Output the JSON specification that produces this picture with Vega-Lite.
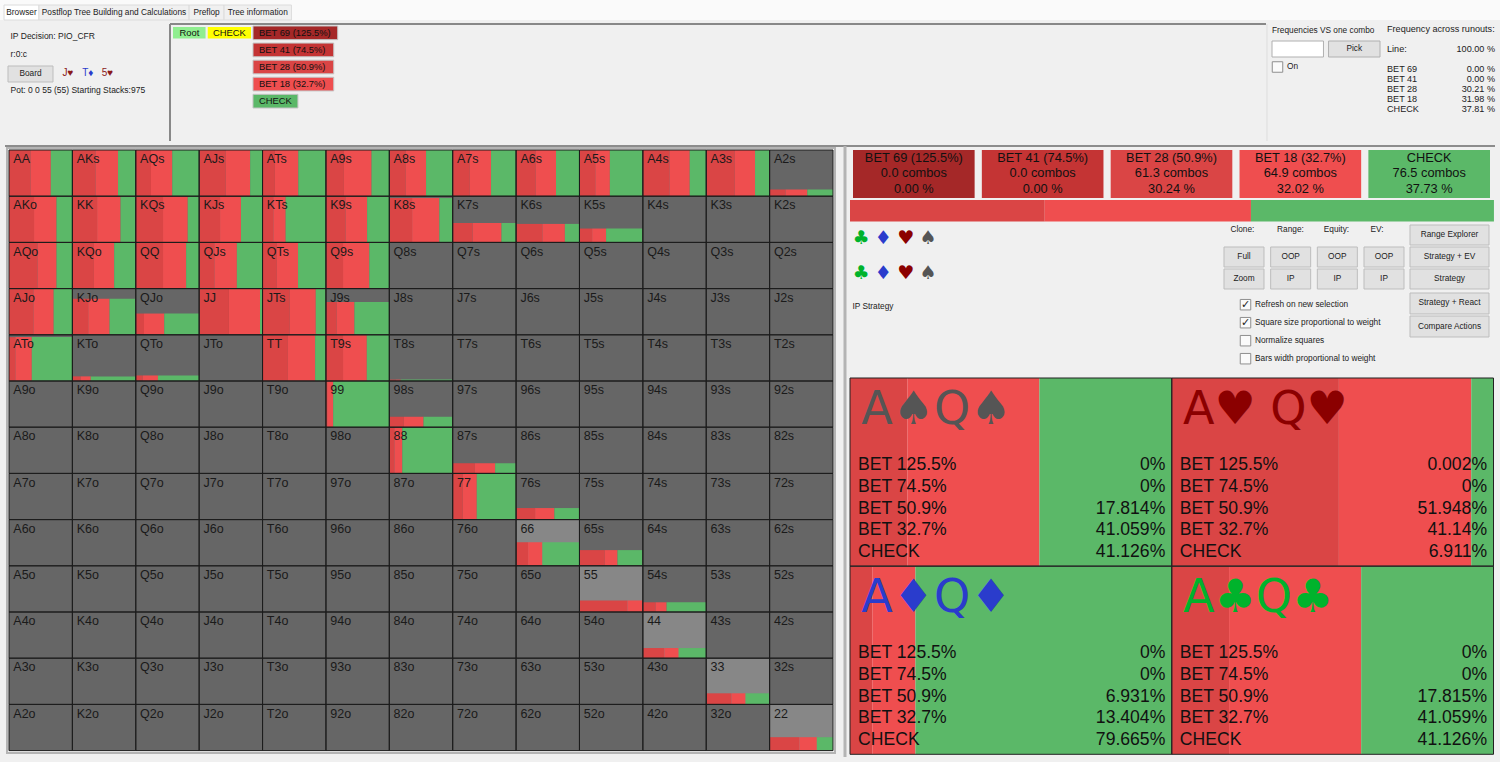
{
"$schema":"https://vega.github.io/schema/vega-lite/v6.json",
"width":1500,"height":762,"padding":0,"autosize":"none","background":"#f0f0f0",
"data":{"values":[{}]},
"config":{"axis":{"disable":true},"legend":{"disable":true},"view":{"stroke":null},"text":{"font":"Liberation Sans","fontSize":8.3,"color":"#222"}},
"resolve":{"scale":{"x":"independent","y":"independent","color":"independent"}},
"datasets":{
"tabs":[{"tab":"Browser","state":"on"},{"tab":"Postflop Tree Building and Calculations","state":"off"},{"tab":"Preflop","state":"off"},{"tab":"Tree information","state":"off"}],
"info":[{"slot":0,"line":"IP Decision:  PIO_CFR"},{"slot":1,"line":"r:0:c"},{"slot":3,"line":"Pot: 0 0 55 (55) Starting Stacks:975"}],
"board":[{"card":"J♥","suit":"heart"},{"card":"T♦","suit":"diamond"},{"card":"5♥","suit":"heart"}],
"path":[{"node":"Root"},{"node":"CHECK"}],
"tree":[{"node":"BET 69 (125.5%)"},{"node":"BET 41 (74.5%)"},{"node":"BET 28 (50.9%)"},{"node":"BET 18 (32.7%)"},{"node":"CHECK"}],
"picker":[{"widget":"input","label":""},{"widget":"pick","label":"Pick"}],
"runouts":[{"slot":0,"label":"Frequency across runouts:","value":""},{"slot":2,"label":"Line:","value":"100.00 %"},{"slot":4,"label":"BET 69","value":"0.00 %"},{"slot":5,"label":"BET 41","value":"0.00 %"},{"slot":6,"label":"BET 28","value":"30.21 %"},{"slot":7,"label":"BET 18","value":"31.98 %"},{"slot":8,"label":"CHECK","value":"37.81 %"}],
"actions":[{"action":"BET 69 (125.5%)","combos":"0.0 combos","share":0},{"action":"BET 41 (74.5%)","combos":"0.0 combos","share":0},{"action":"BET 28 (50.9%)","combos":"61.3 combos","share":30.24},{"action":"BET 18 (32.7%)","combos":"64.9 combos","share":32.02},{"action":"CHECK","combos":"76.5 combos","share":37.73}],
"icons":[{"set":"top","suit":"club","glyph":"♣"},{"set":"top","suit":"diamond","glyph":"♦"},{"set":"top","suit":"heart","glyph":"♥"},{"set":"top","suit":"spade","glyph":"♠"},{"set":"bottom","suit":"club","glyph":"♣"},{"set":"bottom","suit":"diamond","glyph":"♦"},{"set":"bottom","suit":"heart","glyph":"♥"},{"set":"bottom","suit":"spade","glyph":"♠"}],
"grid":[{"head":"Clone:","row":"top","label":"Full"},{"head":"Clone:","row":"bottom","label":"Zoom"},{"head":"Range:","row":"top","label":"OOP"},{"head":"Range:","row":"bottom","label":"IP"},{"head":"Equity:","row":"top","label":"OOP"},{"head":"Equity:","row":"bottom","label":"IP"},{"head":"EV:","row":"top","label":"OOP"},{"head":"EV:","row":"bottom","label":"IP"}],
"side":[{"block":1,"label":"Range Explorer"},{"block":1,"label":"Strategy + EV"},{"block":1,"label":"Strategy"},{"block":2,"label":"Strategy + React"},{"block":2,"label":"Compare Actions"}],
"checks":[{"slot":0,"label":"Refresh on new selection","checked":true},{"slot":1,"label":"Square size proportional to weight","checked":true},{"slot":2,"label":"Normalize squares","checked":false},{"slot":3,"label":"Bars width proportional to weight","checked":false}],
"cells":[{"hand":"AA"},{"hand":"AKs"},{"hand":"AQs"},{"hand":"AJs"},{"hand":"ATs"},{"hand":"A9s"},{"hand":"A8s"},{"hand":"A7s"},{"hand":"A6s"},{"hand":"A5s"},{"hand":"A4s"},{"hand":"A3s"},{"hand":"A2s"},
{"hand":"AKo"},{"hand":"KK"},{"hand":"KQs"},{"hand":"KJs"},{"hand":"KTs"},{"hand":"K9s"},{"hand":"K8s"},{"hand":"K7s"},{"hand":"K6s"},{"hand":"K5s"},{"hand":"K4s"},{"hand":"K3s"},{"hand":"K2s"},
{"hand":"AQo"},{"hand":"KQo"},{"hand":"QQ"},{"hand":"QJs"},{"hand":"QTs"},{"hand":"Q9s"},{"hand":"Q8s"},{"hand":"Q7s"},{"hand":"Q6s"},{"hand":"Q5s"},{"hand":"Q4s"},{"hand":"Q3s"},{"hand":"Q2s"},
{"hand":"AJo"},{"hand":"KJo"},{"hand":"QJo"},{"hand":"JJ"},{"hand":"JTs"},{"hand":"J9s"},{"hand":"J8s"},{"hand":"J7s"},{"hand":"J6s"},{"hand":"J5s"},{"hand":"J4s"},{"hand":"J3s"},{"hand":"J2s"},
{"hand":"ATo"},{"hand":"KTo"},{"hand":"QTo"},{"hand":"JTo"},{"hand":"TT"},{"hand":"T9s"},{"hand":"T8s"},{"hand":"T7s"},{"hand":"T6s"},{"hand":"T5s"},{"hand":"T4s"},{"hand":"T3s"},{"hand":"T2s"},
{"hand":"A9o"},{"hand":"K9o"},{"hand":"Q9o"},{"hand":"J9o"},{"hand":"T9o"},{"hand":"99"},{"hand":"98s"},{"hand":"97s"},{"hand":"96s"},{"hand":"95s"},{"hand":"94s"},{"hand":"93s"},{"hand":"92s"},
{"hand":"A8o"},{"hand":"K8o"},{"hand":"Q8o"},{"hand":"J8o"},{"hand":"T8o"},{"hand":"98o"},{"hand":"88"},{"hand":"87s"},{"hand":"86s"},{"hand":"85s"},{"hand":"84s"},{"hand":"83s"},{"hand":"82s"},
{"hand":"A7o"},{"hand":"K7o"},{"hand":"Q7o"},{"hand":"J7o"},{"hand":"T7o"},{"hand":"97o"},{"hand":"87o"},{"hand":"77"},{"hand":"76s"},{"hand":"75s"},{"hand":"74s"},{"hand":"73s"},{"hand":"72s"},
{"hand":"A6o"},{"hand":"K6o"},{"hand":"Q6o"},{"hand":"J6o"},{"hand":"T6o"},{"hand":"96o"},{"hand":"86o"},{"hand":"76o"},{"hand":"66","tone":"light"},{"hand":"65s"},{"hand":"64s"},{"hand":"63s"},{"hand":"62s"},
{"hand":"A5o"},{"hand":"K5o"},{"hand":"Q5o"},{"hand":"J5o"},{"hand":"T5o"},{"hand":"95o"},{"hand":"85o"},{"hand":"75o"},{"hand":"65o"},{"hand":"55","tone":"light"},{"hand":"54s"},{"hand":"53s"},{"hand":"52s"},
{"hand":"A4o"},{"hand":"K4o"},{"hand":"Q4o"},{"hand":"J4o"},{"hand":"T4o"},{"hand":"94o"},{"hand":"84o"},{"hand":"74o"},{"hand":"64o"},{"hand":"54o"},{"hand":"44","tone":"light"},{"hand":"43s"},{"hand":"42s"},
{"hand":"A3o"},{"hand":"K3o"},{"hand":"Q3o"},{"hand":"J3o"},{"hand":"T3o"},{"hand":"93o"},{"hand":"83o"},{"hand":"73o"},{"hand":"63o"},{"hand":"53o"},{"hand":"43o"},{"hand":"33","tone":"light"},{"hand":"32s"},
{"hand":"A2o"},{"hand":"K2o"},{"hand":"Q2o"},{"hand":"J2o"},{"hand":"T2o"},{"hand":"92o"},{"hand":"82o"},{"hand":"72o"},{"hand":"62o"},{"hand":"52o"},{"hand":"42o"},{"hand":"32o"},{"hand":"22","tone":"light"}],
"strategy":[
{"hand":"AA","action":"BET 28","freq":34,"weight":100},{"hand":"AA","action":"BET 18","freq":32,"weight":100},{"hand":"AA","action":"CHECK","freq":34,"weight":100},
{"hand":"AKs","action":"BET 28","freq":36.5,"weight":100},{"hand":"AKs","action":"BET 18","freq":35.5,"weight":100},{"hand":"AKs","action":"CHECK","freq":28,"weight":100},
{"hand":"AQs","action":"BET 28","freq":24,"weight":100},{"hand":"AQs","action":"BET 18","freq":33.6,"weight":100},{"hand":"AQs","action":"CHECK","freq":42.4,"weight":100},
{"hand":"AJs","action":"BET 28","freq":42,"weight":100},{"hand":"AJs","action":"BET 18","freq":38.5,"weight":100},{"hand":"AJs","action":"CHECK","freq":19.5,"weight":100},
{"hand":"ATs","action":"BET 28","freq":19.5,"weight":100},{"hand":"ATs","action":"BET 18","freq":37,"weight":100},{"hand":"ATs","action":"CHECK","freq":43.5,"weight":100},
{"hand":"A9s","action":"BET 28","freq":28.4,"weight":100},{"hand":"A9s","action":"BET 18","freq":43.6,"weight":100},{"hand":"A9s","action":"CHECK","freq":28,"weight":100},
{"hand":"A8s","action":"BET 28","freq":26,"weight":100},{"hand":"A8s","action":"BET 18","freq":32,"weight":100},{"hand":"A8s","action":"CHECK","freq":42,"weight":100},
{"hand":"A7s","action":"BET 28","freq":27,"weight":100},{"hand":"A7s","action":"BET 18","freq":33.5,"weight":100},{"hand":"A7s","action":"CHECK","freq":39.5,"weight":100},
{"hand":"A6s","action":"BET 28","freq":31,"weight":100},{"hand":"A6s","action":"BET 18","freq":32,"weight":100},{"hand":"A6s","action":"CHECK","freq":37,"weight":100},
{"hand":"A5s","action":"BET 28","freq":25,"weight":100},{"hand":"A5s","action":"BET 18","freq":23,"weight":100},{"hand":"A5s","action":"CHECK","freq":52,"weight":100},
{"hand":"A4s","action":"BET 28","freq":42,"weight":100},{"hand":"A4s","action":"BET 18","freq":32,"weight":100},{"hand":"A4s","action":"CHECK","freq":26,"weight":100},
{"hand":"A3s","action":"BET 28","freq":45,"weight":100},{"hand":"A3s","action":"BET 18","freq":32,"weight":100},{"hand":"A3s","action":"CHECK","freq":23,"weight":100},
{"hand":"A2s","action":"BET 28","freq":25,"weight":14.5},{"hand":"A2s","action":"BET 18","freq":34.5,"weight":14.5},{"hand":"A2s","action":"CHECK","freq":40.5,"weight":14.5},
{"hand":"AKo","action":"BET 28","freq":39.5,"weight":100},{"hand":"AKo","action":"BET 18","freq":35.5,"weight":100},{"hand":"AKo","action":"CHECK","freq":25,"weight":100},
{"hand":"KK","action":"BET 28","freq":39,"weight":100},{"hand":"KK","action":"BET 18","freq":37,"weight":100},{"hand":"KK","action":"CHECK","freq":24,"weight":100},
{"hand":"KQs","action":"BET 28","freq":43,"weight":100},{"hand":"KQs","action":"BET 18","freq":39,"weight":100},{"hand":"KQs","action":"CHECK","freq":18,"weight":100},
{"hand":"KJs","action":"BET 28","freq":33,"weight":100},{"hand":"KJs","action":"BET 18","freq":33,"weight":100},{"hand":"KJs","action":"CHECK","freq":34,"weight":100},
{"hand":"KTs","action":"BET 28","freq":17,"weight":100},{"hand":"KTs","action":"BET 18","freq":19.5,"weight":100},{"hand":"KTs","action":"CHECK","freq":63.5,"weight":100},
{"hand":"K9s","action":"BET 28","freq":31,"weight":100},{"hand":"K9s","action":"BET 18","freq":34,"weight":100},{"hand":"K9s","action":"CHECK","freq":35,"weight":100},
{"hand":"K8s","action":"BET 28","freq":36,"weight":96},{"hand":"K8s","action":"BET 18","freq":43,"weight":96},{"hand":"K8s","action":"CHECK","freq":21,"weight":96},
{"hand":"K7s","action":"BET 28","freq":31.5,"weight":42},{"hand":"K7s","action":"BET 18","freq":45.5,"weight":42},{"hand":"K7s","action":"CHECK","freq":23,"weight":42},
{"hand":"K6s","action":"BET 28","freq":41.5,"weight":40},{"hand":"K6s","action":"BET 18","freq":35.5,"weight":40},{"hand":"K6s","action":"CHECK","freq":23,"weight":40},
{"hand":"K5s","action":"BET 28","freq":20,"weight":30},{"hand":"K5s","action":"BET 18","freq":22,"weight":30},{"hand":"K5s","action":"CHECK","freq":58,"weight":30},
{"hand":"AQo","action":"BET 28","freq":45,"weight":100},{"hand":"AQo","action":"BET 18","freq":30,"weight":100},{"hand":"AQo","action":"CHECK","freq":25,"weight":100},
{"hand":"KQo","action":"BET 28","freq":34,"weight":100},{"hand":"KQo","action":"BET 18","freq":32,"weight":100},{"hand":"KQo","action":"CHECK","freq":34,"weight":100},
{"hand":"QQ","action":"BET 28","freq":43,"weight":100},{"hand":"QQ","action":"BET 18","freq":36.5,"weight":100},{"hand":"QQ","action":"CHECK","freq":20.5,"weight":100},
{"hand":"QJs","action":"BET 28","freq":24,"weight":100},{"hand":"QJs","action":"BET 18","freq":35.5,"weight":100},{"hand":"QJs","action":"CHECK","freq":40.5,"weight":100},
{"hand":"QTs","action":"BET 28","freq":22.6,"weight":100},{"hand":"QTs","action":"BET 18","freq":33.4,"weight":100},{"hand":"QTs","action":"CHECK","freq":44,"weight":100},
{"hand":"Q9s","action":"BET 28","freq":27,"weight":100},{"hand":"Q9s","action":"BET 18","freq":41.5,"weight":100},{"hand":"Q9s","action":"CHECK","freq":31.5,"weight":100},
{"hand":"AJo","action":"BET 28","freq":38.5,"weight":100},{"hand":"AJo","action":"BET 18","freq":32,"weight":100},{"hand":"AJo","action":"CHECK","freq":29.5,"weight":100},
{"hand":"KJo","action":"BET 28","freq":25,"weight":78},{"hand":"KJo","action":"BET 18","freq":33.7,"weight":78},{"hand":"KJo","action":"CHECK","freq":41.3,"weight":78},
{"hand":"QJo","action":"BET 28","freq":13,"weight":46},{"hand":"QJo","action":"BET 18","freq":32,"weight":46},{"hand":"QJo","action":"CHECK","freq":55,"weight":46},
{"hand":"JJ","action":"BET 28","freq":47,"weight":100},{"hand":"JJ","action":"BET 18","freq":49,"weight":100},{"hand":"JJ","action":"CHECK","freq":4,"weight":100},
{"hand":"JTs","action":"BET 28","freq":43,"weight":100},{"hand":"JTs","action":"BET 18","freq":41,"weight":100},{"hand":"JTs","action":"CHECK","freq":16,"weight":100},
{"hand":"J9s","action":"BET 28","freq":17,"weight":71},{"hand":"J9s","action":"BET 18","freq":28,"weight":71},{"hand":"J9s","action":"CHECK","freq":55,"weight":71},
{"hand":"ATo","action":"BET 28","freq":10,"weight":95},{"hand":"ATo","action":"BET 18","freq":26,"weight":95},{"hand":"ATo","action":"CHECK","freq":64,"weight":95},
{"hand":"KTo","action":"BET 28","freq":13,"weight":10},{"hand":"KTo","action":"BET 18","freq":16,"weight":10},{"hand":"KTo","action":"CHECK","freq":71,"weight":10},
{"hand":"QTo","action":"BET 28","freq":11,"weight":12},{"hand":"QTo","action":"BET 18","freq":24,"weight":12},{"hand":"QTo","action":"CHECK","freq":65,"weight":12},
{"hand":"TT","action":"BET 28","freq":40,"weight":100},{"hand":"TT","action":"BET 18","freq":43,"weight":100},{"hand":"TT","action":"CHECK","freq":17,"weight":100},
{"hand":"T9s","action":"BET 28","freq":27,"weight":100},{"hand":"T9s","action":"BET 18","freq":37.5,"weight":100},{"hand":"T9s","action":"CHECK","freq":35.5,"weight":100},
{"hand":"T8s","action":"BET 28","freq":10,"weight":3},{"hand":"T8s","action":"BET 18","freq":8,"weight":3},{"hand":"T8s","action":"CHECK","freq":82,"weight":3},
{"hand":"99","action":"BET 28","freq":2,"weight":100},{"hand":"99","action":"BET 18","freq":9.5,"weight":100},{"hand":"99","action":"CHECK","freq":88.5,"weight":100},
{"hand":"98s","action":"BET 28","freq":23,"weight":22.6},{"hand":"98s","action":"BET 18","freq":31,"weight":22.6},{"hand":"98s","action":"CHECK","freq":46,"weight":22.6},
{"hand":"88","action":"BET 28","freq":8,"weight":100},{"hand":"88","action":"BET 18","freq":12.5,"weight":100},{"hand":"88","action":"CHECK","freq":79.5,"weight":100},
{"hand":"87s","action":"BET 28","freq":35,"weight":22},{"hand":"87s","action":"BET 18","freq":32,"weight":22},{"hand":"87s","action":"CHECK","freq":33,"weight":22},
{"hand":"77","action":"BET 28","freq":16,"weight":100},{"hand":"77","action":"BET 18","freq":22,"weight":100},{"hand":"77","action":"CHECK","freq":62,"weight":100},
{"hand":"76s","action":"BET 28","freq":30,"weight":25},{"hand":"76s","action":"BET 18","freq":30.5,"weight":25},{"hand":"76s","action":"CHECK","freq":39.5,"weight":25},
{"hand":"66","action":"BET 28","freq":19,"weight":51},{"hand":"66","action":"BET 18","freq":22.5,"weight":51},{"hand":"66","action":"CHECK","freq":58.5,"weight":51},
{"hand":"65s","action":"BET 28","freq":40,"weight":34},{"hand":"65s","action":"BET 18","freq":20,"weight":34},{"hand":"65s","action":"CHECK","freq":40,"weight":34},
{"hand":"55","action":"BET 28","freq":76,"weight":25},{"hand":"55","action":"BET 18","freq":24,"weight":25},
{"hand":"54s","action":"BET 28","freq":20,"weight":21},{"hand":"54s","action":"BET 18","freq":17.5,"weight":21},{"hand":"54s","action":"CHECK","freq":62.5,"weight":21},
{"hand":"44","action":"BET 28","freq":34,"weight":22},{"hand":"44","action":"BET 18","freq":22.5,"weight":22},{"hand":"44","action":"CHECK","freq":43.5,"weight":22},
{"hand":"33","action":"BET 28","freq":40,"weight":24},{"hand":"33","action":"BET 18","freq":22,"weight":24},{"hand":"33","action":"CHECK","freq":38,"weight":24},
{"hand":"22","action":"BET 28","freq":47,"weight":29},{"hand":"22","action":"BET 18","freq":27.5,"weight":29},{"hand":"22","action":"CHECK","freq":25.5,"weight":29}],
"combos":[
{"combo":"A♠Q♠","suit":"spade","col":0,"row":0,"action":"BET 125.5%","freq":0},{"combo":"A♠Q♠","suit":"spade","col":0,"row":0,"action":"BET 74.5%","freq":0},{"combo":"A♠Q♠","suit":"spade","col":0,"row":0,"action":"BET 50.9%","freq":17.814},{"combo":"A♠Q♠","suit":"spade","col":0,"row":0,"action":"BET 32.7%","freq":41.059},{"combo":"A♠Q♠","suit":"spade","col":0,"row":0,"action":"CHECK","freq":41.126},
{"combo":"A♥ Q♥","suit":"heart","col":1,"row":0,"action":"BET 125.5%","freq":0.002},{"combo":"A♥ Q♥","suit":"heart","col":1,"row":0,"action":"BET 74.5%","freq":0},{"combo":"A♥ Q♥","suit":"heart","col":1,"row":0,"action":"BET 50.9%","freq":51.948},{"combo":"A♥ Q♥","suit":"heart","col":1,"row":0,"action":"BET 32.7%","freq":41.14},{"combo":"A♥ Q♥","suit":"heart","col":1,"row":0,"action":"CHECK","freq":6.911},
{"combo":"A♦Q♦","suit":"diamond","col":0,"row":1,"action":"BET 125.5%","freq":0},{"combo":"A♦Q♦","suit":"diamond","col":0,"row":1,"action":"BET 74.5%","freq":0},{"combo":"A♦Q♦","suit":"diamond","col":0,"row":1,"action":"BET 50.9%","freq":6.931},{"combo":"A♦Q♦","suit":"diamond","col":0,"row":1,"action":"BET 32.7%","freq":13.404},{"combo":"A♦Q♦","suit":"diamond","col":0,"row":1,"action":"CHECK","freq":79.665},
{"combo":"A♣Q♣","suit":"club","col":1,"row":1,"action":"BET 125.5%","freq":0},{"combo":"A♣Q♣","suit":"club","col":1,"row":1,"action":"BET 74.5%","freq":0},{"combo":"A♣Q♣","suit":"club","col":1,"row":1,"action":"BET 50.9%","freq":17.815},{"combo":"A♣Q♣","suit":"club","col":1,"row":1,"action":"BET 32.7%","freq":41.059},{"combo":"A♣Q♣","suit":"club","col":1,"row":1,"action":"CHECK","freq":41.126}]
},
"layer":[
{"mark":{"type":"rect","fill":"#fafafa"},"encoding":{"x":{"datum":0,"type":"quantitative","scale":{"domain":[0,1],"range":[0,1500]}},"x2":{"datum":1},"y":{"datum":0,"type":"quantitative","scale":{"domain":[0,1],"range":[0,20]}},"y2":{"datum":1}}},
{"data":{"name":"tabs"},"transform":[{"calculate":"length(datum.tab)+2.7","as":"span"},{"stack":"span","groupby":[],"as":["s0","s1"]}],
 "mark":{"type":"rect","stroke":"#dcdcdc"},"encoding":{"x":{"field":"s0","type":"quantitative","scale":{"domain":[0,80.8],"range":[4,295]}},"x2":{"field":"s1"},"y":{"datum":0,"type":"quantitative","scale":{"domain":[0,1],"range":[5,20]}},"y2":{"datum":1},"color":{"field":"state","type":"nominal","scale":{"domain":["on","off"],"range":["#ffffff","#f0f0f0"]}}}},
{"data":{"name":"tabs"},"transform":[{"calculate":"length(datum.tab)+2.7","as":"span"},{"stack":"span","groupby":[],"as":["s0","s1"]},{"calculate":"(datum.s0+datum.s1)/2","as":"mid"}],
 "mark":{"type":"text"},"encoding":{"x":{"field":"mid","type":"quantitative","scale":{"domain":[0,80.8],"range":[4,295]}},"y":{"datum":0.55,"type":"quantitative","scale":{"domain":[0,1],"range":[5,20]}},"text":{"field":"tab"}}},
{"mark":{"type":"rule","color":"#888888","strokeWidth":2},"encoding":{"x":{"datum":0,"type":"quantitative","scale":{"domain":[0,1],"range":[170,1266]}},"y":{"datum":0,"type":"quantitative","scale":{"domain":[0,1],"range":[24,141]}},"y2":{"datum":1}}},
{"mark":{"type":"rule","color":"#888888","strokeWidth":2},"encoding":{"x":{"datum":0,"type":"quantitative","scale":{"domain":[0,1],"range":[170,1266]}},"x2":{"datum":1},"y":{"datum":0,"type":"quantitative","scale":{"domain":[0,1],"range":[24,141]}}}},
{"mark":{"type":"rule","color":"#dddddd","strokeWidth":1},"encoding":{"x":{"datum":1,"type":"quantitative","scale":{"domain":[0,1],"range":[170,1267]}},"y":{"datum":0,"type":"quantitative","scale":{"domain":[0,1],"range":[24,141]}},"y2":{"datum":1}}},
{"mark":{"type":"rule","color":"#8c8c8c","strokeWidth":2},"encoding":{"x":{"datum":0,"type":"quantitative","scale":{"domain":[0,1],"range":[5,1495]}},"x2":{"datum":1},"y":{"datum":0,"type":"quantitative","scale":{"domain":[0,1],"range":[146,757]}}}},
{"mark":{"type":"rect","fillOpacity":0,"stroke":"#b4b4b4","strokeWidth":2},"encoding":{"x":{"datum":0,"type":"quantitative","scale":{"domain":[0,1],"range":[7,835]}},"x2":{"datum":1},"y":{"datum":0,"type":"quantitative","scale":{"domain":[0,1],"range":[148,753]}},"y2":{"datum":1}}},
{"mark":{"type":"rule","color":"#b4b4b4","strokeWidth":3},"encoding":{"x":{"datum":0,"type":"quantitative","scale":{"domain":[0,1],"range":[845,1495]}},"y":{"datum":0,"type":"quantitative","scale":{"domain":[0,1],"range":[146,757]}},"y2":{"datum":1}}},
{"data":{"name":"info"},"mark":{"type":"text","align":"left","fontSize":8.5},"encoding":{"x":{"datum":0,"type":"quantitative","scale":{"domain":[0,1],"range":[10.5,160]}},"y":{"field":"slot","type":"quantitative","scale":{"domain":[0,3],"range":[36,90]}},"text":{"field":"line"}}},
{"mark":{"type":"rect","fill":"#e1e1e1","stroke":"#bdbdbd"},"encoding":{"x":{"datum":0,"type":"quantitative","scale":{"domain":[0,1],"range":[8,53]}},"x2":{"datum":1},"y":{"datum":0,"type":"quantitative","scale":{"domain":[0,1],"range":[66,82]}},"y2":{"datum":1}}},
{"mark":{"type":"text","text":"Board"},"encoding":{"x":{"datum":0.5,"type":"quantitative","scale":{"domain":[0,1],"range":[8,53]}},"y":{"datum":0.5,"type":"quantitative","scale":{"domain":[0,1],"range":[66,82]}}}},
{"data":{"name":"board"},"mark":{"type":"text","fontSize":10},"encoding":{"x":{"field":"card","type":"nominal","sort":null,"scale":{"type":"point","domain":["J♥","T♦","5♥"],"range":[68,107.5],"padding":0}},"y":{"datum":0.5,"type":"quantitative","scale":{"domain":[0,1],"range":[66,80]}},"text":{"field":"card"},"color":{"field":"suit","type":"nominal","scale":{"domain":["heart","diamond"],"range":["#8b1a1a","#2a3ccc"]}}}},
{"data":{"name":"path"},"transform":[{"calculate":"length(datum.node)-0.7","as":"span"},{"stack":"span","groupby":[],"as":["s0","s1"]}],
 "mark":{"type":"rect","stroke":"#f0f0f0","strokeWidth":2},"encoding":{"x":{"field":"s0","type":"quantitative","scale":{"domain":[0,7.6],"range":[172,252]}},"x2":{"field":"s1"},"y":{"datum":0,"type":"quantitative","scale":{"domain":[0,1],"range":[26,39.5]}},"y2":{"datum":1},"color":{"field":"node","type":"nominal","scale":{"domain":["Root","CHECK"],"range":["#90ee90","#ffff00"]}}}},
{"data":{"name":"path"},"transform":[{"calculate":"length(datum.node)-0.7","as":"span"},{"stack":"span","groupby":[],"as":["s0","s1"]},{"calculate":"(datum.s0+datum.s1)/2","as":"mid"}],
 "mark":{"type":"text","fontSize":9.4,"color":"#111"},"encoding":{"x":{"field":"mid","type":"quantitative","scale":{"domain":[0,7.6],"range":[172,252]}},"y":{"datum":0.5,"type":"quantitative","scale":{"domain":[0,1],"range":[26,39.5]}},"text":{"field":"node"}}},
{"data":{"name":"tree"},"transform":[{"calculate":"length(datum.node)+6.3","as":"span"},{"calculate":"0","as":"origin"}],
 "mark":{"type":"rect","stroke":"#c4c4c4"},"encoding":{"x":{"field":"origin","type":"quantitative","scale":{"domain":[0,21.5],"range":[253,338.5]}},"x2":{"field":"span"},"y":{"field":"node","type":"nominal","sort":null,"scale":{"type":"band","domain":["BET 69 (125.5%)","BET 41 (74.5%)","BET 28 (50.9%)","BET 18 (32.7%)","CHECK"],"range":[26,108],"paddingInner":0.2,"paddingOuter":0}},"color":{"field":"node","type":"nominal","scale":{"domain":["BET 69 (125.5%)","BET 41 (74.5%)","BET 28 (50.9%)","BET 18 (32.7%)","CHECK"],"range":["#a52828","#c43434","#da4545","#ef4e4f","#5bb868"]}}}},
{"data":{"name":"tree"},"mark":{"type":"text","align":"left","fontSize":9.4,"color":"#111"},"encoding":{"x":{"datum":1.5,"type":"quantitative","scale":{"domain":[0,21.5],"range":[253,338.5]}},"y":{"field":"node","type":"nominal","sort":null,"scale":{"type":"band","domain":["BET 69 (125.5%)","BET 41 (74.5%)","BET 28 (50.9%)","BET 18 (32.7%)","CHECK"],"range":[26,108],"paddingInner":0.2,"paddingOuter":0}},"text":{"field":"node"}}},
{"mark":{"type":"text","align":"left","text":"Frequencies VS one combo"},"encoding":{"x":{"datum":0,"type":"quantitative","scale":{"domain":[0,1],"range":[1272,1372]}},"y":{"datum":0,"type":"quantitative","scale":{"domain":[0,1],"range":[31,49]}}}},
{"data":{"name":"picker"},"mark":{"type":"rect","stroke":"#b0b0b0"},"encoding":{"x":{"field":"widget","type":"nominal","sort":null,"scale":{"type":"band","domain":["input","pick"],"range":[1272,1380],"paddingInner":0.09,"paddingOuter":0}},"y":{"datum":0,"type":"quantitative","scale":{"domain":[0,1],"range":[41,57]}},"y2":{"datum":1},"color":{"field":"widget","type":"nominal","scale":{"domain":["input","pick"],"range":["#ffffff","#e1e1e1"]}}}},
{"data":{"name":"picker"},"mark":{"type":"text"},"encoding":{"x":{"field":"widget","type":"nominal","sort":null,"scale":{"type":"band","domain":["input","pick"],"range":[1272,1380],"paddingInner":0.09,"paddingOuter":0}},"y":{"datum":0.5,"type":"quantitative","scale":{"domain":[0,1],"range":[41,57]}},"text":{"field":"label"}}},
{"mark":{"type":"square","filled":true,"fill":"#ffffff","stroke":"#666666","strokeWidth":1,"size":110},"encoding":{"x":{"datum":0,"type":"quantitative","scale":{"domain":[0,1],"range":[1277.5,1287]}},"y":{"datum":0,"type":"quantitative","scale":{"domain":[0,1],"range":[67,90]}}}},
{"mark":{"type":"text","align":"left","text":"On"},"encoding":{"x":{"datum":1,"type":"quantitative","scale":{"domain":[0,1],"range":[1277.5,1287]}},"y":{"datum":0,"type":"quantitative","scale":{"domain":[0,1],"range":[67,90]}}}},
{"data":{"name":"runouts"},"mark":{"type":"text","align":"left","fontSize":9.1},"encoding":{"y":{"field":"slot","type":"quantitative","scale":{"domain":[0,8],"range":[28.5,109]}},"x":{"datum":0,"type":"quantitative","scale":{"domain":[0,1],"range":[1387,1495]}},"text":{"field":"label"}}},
{"data":{"name":"runouts"},"mark":{"type":"text","align":"right","fontSize":9.1},"encoding":{"y":{"field":"slot","type":"quantitative","scale":{"domain":[0,8],"range":[28.5,109]}},"x":{"datum":1,"type":"quantitative","scale":{"domain":[0,1],"range":[1387,1495]}},"text":{"field":"value"}}},
{"data":{"name":"actions"},"mark":{"type":"rect"},"encoding":{"x":{"field":"action","type":"nominal","sort":null,"scale":{"type":"band","domain":["BET 69 (125.5%)","BET 41 (74.5%)","BET 28 (50.9%)","BET 18 (32.7%)","CHECK"],"range":[853,1490],"paddingInner":0.056,"paddingOuter":0}},"y":{"datum":0,"type":"quantitative","scale":{"domain":[0,1],"range":[150,198]}},"y2":{"datum":1},"color":{"field":"action","type":"nominal","scale":{"domain":["BET 69 (125.5%)","BET 41 (74.5%)","BET 28 (50.9%)","BET 18 (32.7%)","CHECK"],"range":["#a52828","#c43434","#da4545","#ef4e4f","#5bb868"]}}}},
{"data":{"name":"actions"},"mark":{"type":"text","fontSize":12.8,"color":"#111"},"encoding":{"x":{"field":"action","type":"nominal","sort":null,"scale":{"type":"band","domain":["BET 69 (125.5%)","BET 41 (74.5%)","BET 28 (50.9%)","BET 18 (32.7%)","CHECK"],"range":[853,1490],"paddingInner":0.056,"paddingOuter":0}},"y":{"datum":0.167,"type":"quantitative","scale":{"domain":[0,1],"range":[150,198]}},"text":{"field":"action"}}},
{"data":{"name":"actions"},"mark":{"type":"text","fontSize":12.8,"color":"#111"},"encoding":{"x":{"field":"action","type":"nominal","sort":null,"scale":{"type":"band","domain":["BET 69 (125.5%)","BET 41 (74.5%)","BET 28 (50.9%)","BET 18 (32.7%)","CHECK"],"range":[853,1490],"paddingInner":0.056,"paddingOuter":0}},"y":{"datum":0.486,"type":"quantitative","scale":{"domain":[0,1],"range":[150,198]}},"text":{"field":"combos"}}},
{"data":{"name":"actions"},"transform":[{"calculate":"format(datum.share,'.2f')+' %'","as":"pct"}],"mark":{"type":"text","fontSize":12.8,"color":"#111"},"encoding":{"x":{"field":"action","type":"nominal","sort":null,"scale":{"type":"band","domain":["BET 69 (125.5%)","BET 41 (74.5%)","BET 28 (50.9%)","BET 18 (32.7%)","CHECK"],"range":[853,1490],"paddingInner":0.056,"paddingOuter":0}},"y":{"datum":0.81,"type":"quantitative","scale":{"domain":[0,1],"range":[150,198]}},"text":{"field":"pct"}}},
{"data":{"name":"actions"},"transform":[{"stack":"share","groupby":[],"as":["s0","s1"]}],"mark":{"type":"rect"},"encoding":{"x":{"field":"s0","type":"quantitative","scale":{"domain":[0,100],"range":[850,1494]}},"x2":{"field":"s1"},"y":{"datum":0,"type":"quantitative","scale":{"domain":[0,1],"range":[200,221.5]}},"y2":{"datum":1},"color":{"field":"action","type":"nominal","scale":{"domain":["BET 69 (125.5%)","BET 41 (74.5%)","BET 28 (50.9%)","BET 18 (32.7%)","CHECK"],"range":["#a52828","#c43434","#da4545","#ef4e4f","#5bb868"]}}}},
{"data":{"name":"icons"},"mark":{"type":"text","font":"DejaVu Sans","fontSize":19},"encoding":{"x":{"field":"suit","type":"nominal","sort":null,"scale":{"type":"point","domain":["club","diamond","heart","spade"],"range":[861,928],"padding":0}},"y":{"field":"set","type":"nominal","sort":null,"scale":{"type":"point","domain":["top","bottom"],"range":[238,273],"padding":0}},"text":{"field":"glyph"},"color":{"field":"suit","type":"nominal","scale":{"domain":["club","diamond","heart","spade"],"range":["#00b32c","#2a3ccc","#8b0000","#555555"]}}}},
{"mark":{"type":"text","align":"left","text":"IP Strategy"},"encoding":{"x":{"datum":0,"type":"quantitative","scale":{"domain":[0,1],"range":[852.5,950]}},"y":{"datum":0,"type":"quantitative","scale":{"domain":[0,1],"range":[307,320]}}}},
{"data":{"name":"grid"},"transform":[{"filter":"datum.row=='top'"}],"mark":{"type":"text","align":"left"},"encoding":{"x":{"field":"head","type":"nominal","sort":null,"bandPosition":0.16,"scale":{"type":"band","domain":["Clone:","Range:","Equity:","EV:"],"range":[1224,1404],"paddingInner":0.143,"paddingOuter":0}},"y":{"datum":0,"type":"quantitative","scale":{"domain":[0,1],"range":[229.5,240]}},"text":{"field":"head"}}},
{"data":{"name":"grid"},"mark":{"type":"rect","fill":"#e1e1e1","stroke":"#bdbdbd"},"encoding":{"x":{"field":"head","type":"nominal","sort":null,"scale":{"type":"band","domain":["Clone:","Range:","Equity:","EV:"],"range":[1224,1404],"paddingInner":0.143,"paddingOuter":0}},"y":{"field":"row","type":"nominal","sort":null,"scale":{"type":"band","domain":["top","bottom"],"range":[247,289],"paddingInner":0.09,"paddingOuter":0}}}},
{"data":{"name":"grid"},"mark":{"type":"text"},"encoding":{"x":{"field":"head","type":"nominal","sort":null,"scale":{"type":"band","domain":["Clone:","Range:","Equity:","EV:"],"range":[1224,1404],"paddingInner":0.143,"paddingOuter":0}},"y":{"field":"row","type":"nominal","sort":null,"scale":{"type":"band","domain":["top","bottom"],"range":[247,289],"paddingInner":0.09,"paddingOuter":0}},"text":{"field":"label"}}},
{"data":{"name":"side"},"transform":[{"filter":"datum.block==1"}],"mark":{"type":"rect","fill":"#e1e1e1","stroke":"#bdbdbd"},"encoding":{"y":{"field":"label","type":"nominal","sort":null,"scale":{"type":"band","domain":["Range Explorer","Strategy + EV","Strategy"],"range":[225,289],"paddingInner":0.09,"paddingOuter":0}},"x":{"datum":0,"type":"quantitative","scale":{"domain":[0,1],"range":[1410,1489]}},"x2":{"datum":1}}},
{"data":{"name":"side"},"transform":[{"filter":"datum.block==1"}],"mark":{"type":"text"},"encoding":{"y":{"field":"label","type":"nominal","sort":null,"scale":{"type":"band","domain":["Range Explorer","Strategy + EV","Strategy"],"range":[225,289],"paddingInner":0.09,"paddingOuter":0}},"x":{"datum":0.5,"type":"quantitative","scale":{"domain":[0,1],"range":[1410,1489]}},"text":{"field":"label"}}},
{"data":{"name":"side"},"transform":[{"filter":"datum.block==2"}],"mark":{"type":"rect","fill":"#e1e1e1","stroke":"#bdbdbd"},"encoding":{"y":{"field":"label","type":"nominal","sort":null,"scale":{"type":"band","domain":["Strategy + React","Compare Actions"],"range":[293,337],"paddingInner":0.09,"paddingOuter":0}},"x":{"datum":0,"type":"quantitative","scale":{"domain":[0,1],"range":[1410,1489]}},"x2":{"datum":1}}},
{"data":{"name":"side"},"transform":[{"filter":"datum.block==2"}],"mark":{"type":"text"},"encoding":{"y":{"field":"label","type":"nominal","sort":null,"scale":{"type":"band","domain":["Strategy + React","Compare Actions"],"range":[293,337],"paddingInner":0.09,"paddingOuter":0}},"x":{"datum":0.5,"type":"quantitative","scale":{"domain":[0,1],"range":[1410,1489]}},"text":{"field":"label"}}},
{"data":{"name":"checks"},"mark":{"type":"square","filled":true,"fill":"#ffffff","stroke":"#666666","strokeWidth":1,"size":110},"encoding":{"y":{"field":"slot","type":"quantitative","scale":{"domain":[0,3],"range":[304.7,358.7]}},"x":{"datum":0,"type":"quantitative","scale":{"domain":[0,1],"range":[1245.5,1255]}}}},
{"data":{"name":"checks"},"transform":[{"filter":"datum.checked"}],"mark":{"type":"text","text":"✓","font":"DejaVu Sans","fontSize":11},"encoding":{"y":{"field":"slot","type":"quantitative","scale":{"domain":[0,3],"range":[304.7,358.7]}},"x":{"datum":0,"type":"quantitative","scale":{"domain":[0,1],"range":[1245.5,1255]}}}},
{"data":{"name":"checks"},"mark":{"type":"text","align":"left"},"encoding":{"y":{"field":"slot","type":"quantitative","scale":{"domain":[0,3],"range":[304.7,358.7]}},"x":{"datum":1,"type":"quantitative","scale":{"domain":[0,1],"range":[1245.5,1255]}},"text":{"field":"label"}}},
{"data":{"name":"cells"},"transform":[{"calculate":"substring(datum.hand,2)=='o'?substring(datum.hand,1,2):substring(datum.hand,0,1)","as":"r"},{"calculate":"substring(datum.hand,2)=='o'?substring(datum.hand,0,1):substring(datum.hand,1,2)","as":"c"}],
 "mark":{"type":"rect"},
 "encoding":{"x":{"field":"c","type":"nominal","sort":null,"scale":{"type":"band","domain":["A","K","Q","J","T","9","8","7","6","5","4","3","2"],"range":[9,833],"paddingInner":0,"paddingOuter":0}},"y":{"field":"r","type":"nominal","sort":null,"scale":{"type":"band","domain":["A","K","Q","J","T","9","8","7","6","5","4","3","2"],"range":[150,750.6],"paddingInner":0,"paddingOuter":0}},"color":{"condition":{"test":"datum.tone=='light'","value":"#878787"},"value":"#666666"}}},
{"data":{"name":"strategy"},
 "transform":[{"calculate":"substring(datum.hand,2)=='o'?substring(datum.hand,1,2):substring(datum.hand,0,1)","as":"r"},{"calculate":"substring(datum.hand,2)=='o'?substring(datum.hand,0,1):substring(datum.hand,1,2)","as":"c"},{"calculate":"indexof(['BET 28','BET 18','CHECK'],datum.action)","as":"seq"},{"stack":"freq","groupby":["hand"],"sort":[{"field":"seq","order":"ascending"}],"as":["s0","s1"]},{"calculate":"indexof('AKQJT98765432',datum.c)+datum.s0/100","as":"left"},{"calculate":"indexof('AKQJT98765432',datum.c)+datum.s1/100","as":"right"},{"calculate":"indexof('AKQJT98765432',datum.r)+1-datum.weight/100","as":"top"},{"calculate":"indexof('AKQJT98765432',datum.r)+1","as":"bottom"}],
 "mark":{"type":"rect"},
 "encoding":{"x":{"field":"left","type":"quantitative","scale":{"domain":[0,13],"range":[9,833]}},"x2":{"field":"right"},"y":{"field":"top","type":"quantitative","scale":{"domain":[0,13],"range":[150,750.6]}},"y2":{"field":"bottom"},"color":{"field":"action","type":"nominal","scale":{"domain":["BET 28","BET 18","CHECK"],"range":["#da4545","#ef4e4f","#5bb868"]}}}},
{"data":{"name":"cells"},"transform":[{"calculate":"substring(datum.hand,2)=='o'?substring(datum.hand,1,2):substring(datum.hand,0,1)","as":"r"},{"calculate":"substring(datum.hand,2)=='o'?substring(datum.hand,0,1):substring(datum.hand,1,2)","as":"c"}],
 "mark":{"type":"rect","fillOpacity":0,"stroke":"#1c1c1c","strokeWidth":1},"encoding":{"x":{"field":"c","type":"nominal","sort":null,"scale":{"type":"band","domain":["A","K","Q","J","T","9","8","7","6","5","4","3","2"],"range":[9,833],"paddingInner":0,"paddingOuter":0}},"y":{"field":"r","type":"nominal","sort":null,"scale":{"type":"band","domain":["A","K","Q","J","T","9","8","7","6","5","4","3","2"],"range":[150,750.6],"paddingInner":0,"paddingOuter":0}}}},
{"data":{"name":"cells"},"transform":[{"calculate":"substring(datum.hand,2)=='o'?substring(datum.hand,1,2):substring(datum.hand,0,1)","as":"r"},{"calculate":"substring(datum.hand,2)=='o'?substring(datum.hand,0,1):substring(datum.hand,1,2)","as":"c"}],
 "mark":{"type":"text","align":"left","fontSize":12.5,"color":"#1a1a1a"},"encoding":{"x":{"field":"c","type":"nominal","sort":null,"bandPosition":0.068,"scale":{"type":"band","domain":["A","K","Q","J","T","9","8","7","6","5","4","3","2"],"range":[9,833],"paddingInner":0,"paddingOuter":0}},"y":{"field":"r","type":"nominal","sort":null,"bandPosition":0.2,"scale":{"type":"band","domain":["A","K","Q","J","T","9","8","7","6","5","4","3","2"],"range":[150,750.6],"paddingInner":0,"paddingOuter":0}},"text":{"field":"hand"}}},
{"data":{"name":"combos"},
 "transform":[{"calculate":"indexof(['BET 125.5%','BET 74.5%','BET 50.9%','BET 32.7%','CHECK'],datum.action)","as":"seq"},{"stack":"freq","groupby":["combo"],"sort":[{"field":"seq","order":"ascending"}],"as":["s0","s1"]},{"calculate":"datum.col+datum.s0/100","as":"left"},{"calculate":"datum.col+datum.s1/100","as":"right"}],
 "mark":{"type":"rect"},
 "encoding":{"x":{"field":"left","type":"quantitative","scale":{"domain":[0,2],"range":[850,1493.5]}},"x2":{"field":"right"},"y":{"field":"row","type":"ordinal","scale":{"type":"band","domain":[0,1],"range":[378,754.3],"paddingInner":0,"paddingOuter":0}},"color":{"field":"action","type":"nominal","scale":{"domain":["BET 125.5%","BET 74.5%","BET 50.9%","BET 32.7%","CHECK"],"range":["#a52828","#c43434","#da4545","#ef4e4f","#5bb868"]}}}},
{"data":{"name":"combos"},"transform":[{"filter":"datum.action=='CHECK'"}],
 "mark":{"type":"rect","fillOpacity":0,"stroke":"#222222","strokeWidth":1},
 "encoding":{"x":{"field":"col","type":"ordinal","scale":{"type":"band","domain":[0,1],"range":[850,1493.5],"paddingInner":0,"paddingOuter":0}},"y":{"field":"row","type":"ordinal","scale":{"type":"band","domain":[0,1],"range":[378,754.3],"paddingInner":0,"paddingOuter":0}}}},
{"data":{"name":"combos"},"transform":[{"filter":"datum.action=='CHECK'"},{"calculate":"datum.col+0.035","as":"at"},{"calculate":"datum.row+0.17","as":"line"}],
 "mark":{"type":"text","align":"left","font":"DejaVu Sans","fontSize":46},
 "encoding":{"x":{"field":"at","type":"quantitative","scale":{"domain":[0,2],"range":[850,1493.5]}},"y":{"field":"line","type":"quantitative","scale":{"domain":[0,2],"range":[378,754.3]}},"text":{"field":"combo"},"color":{"field":"suit","type":"nominal","scale":{"domain":["spade","heart","diamond","club"],"range":["#555555","#8b0000","#2a3ccc","#00b32c"]}}}},
{"data":{"name":"combos"},"transform":[{"calculate":"indexof(['BET 125.5%','BET 74.5%','BET 50.9%','BET 32.7%','CHECK'],datum.action)","as":"seq"},{"calculate":"datum.row+0.463+datum.seq*0.1154","as":"line"},{"calculate":"datum.col+0.025","as":"at"}],
 "mark":{"type":"text","align":"left","fontSize":17.6,"color":"#111"},"encoding":{"x":{"field":"at","type":"quantitative","scale":{"domain":[0,2],"range":[850,1493.5]}},"y":{"field":"line","type":"quantitative","scale":{"domain":[0,2],"range":[378,754.3]}},"text":{"field":"action"}}},
{"data":{"name":"combos"},"transform":[{"calculate":"indexof(['BET 125.5%','BET 74.5%','BET 50.9%','BET 32.7%','CHECK'],datum.action)","as":"seq"},{"calculate":"datum.row+0.463+datum.seq*0.1154","as":"line"},{"calculate":"datum.col+0.98","as":"end"},{"calculate":"datum.freq+'%'","as":"shown"}],
 "mark":{"type":"text","align":"right","fontSize":17.6,"color":"#111"},"encoding":{"x":{"field":"end","type":"quantitative","scale":{"domain":[0,2],"range":[850,1493.5]}},"y":{"field":"line","type":"quantitative","scale":{"domain":[0,2],"range":[378,754.3]}},"text":{"field":"shown"}}}
]
}
